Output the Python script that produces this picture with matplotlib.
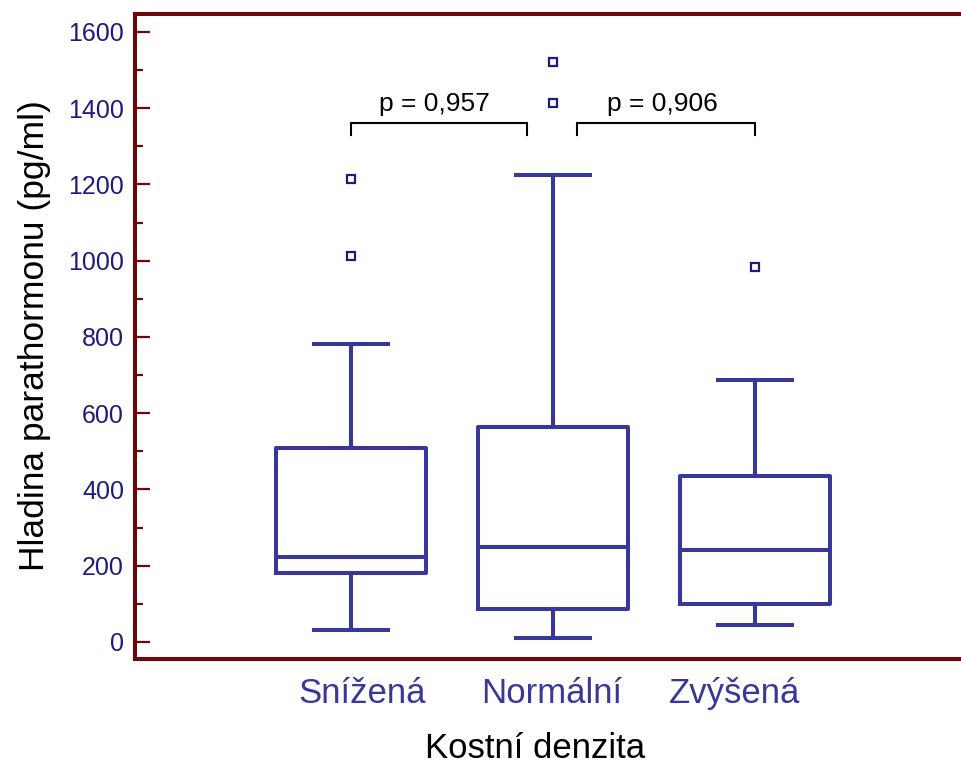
import matplotlib
matplotlib.use('Agg')
import matplotlib.pyplot as plt
from matplotlib.ticker import MultipleLocator

plt.rcParams['font.family'] = ['Liberation Sans', 'DejaVu Sans']

# data (pg/ml)
groups = ['Snížená', 'Normální', 'Zvýšená']
whislo = [32, 10, 45]
q1 = [181, 87, 99]
med = [223, 250, 242]
q3 = [509, 564, 435]
whishi = [782, 1225, 688]
fliers = [[1012, 1215], [1414, 1521], [984]]

p_values = ['p = 0,957', 'p = 0,906']
pairs = [(1, 1.87), (2.12, 3)]

box_col = '#38389c'
dark_blue = '#1c1c7e'
spine_col = '#6e0808'

fig = plt.figure(figsize=(9.62, 7.65), dpi=100)
ax = fig.add_axes([135/962, 1 - 659/765, 1 - 135/962, (659 - 14)/765])

stats = []
for i in range(len(groups)):
    stats.append(dict(med=med[i], q1=q1[i], q3=q3[i], whislo=whislo[i],
                      whishi=whishi[i], fliers=fliers[i], label=groups[i]))

lw = 2.9
ax.bxp(stats, positions=[1, 2, 3], widths=0.74, capwidths=0.366,
       boxprops=dict(color=box_col, linewidth=lw),
       whiskerprops=dict(color=box_col, linewidth=lw),
       capprops=dict(color=box_col, linewidth=lw),
       medianprops=dict(color=box_col, linewidth=lw),
       flierprops=dict(marker='s', markersize=6, markerfacecolor='white',
                       markeredgecolor=dark_blue, markeredgewidth=1.6))

# p-value brackets
for (x0, x1), txt in zip(pairs, p_values):
    ax.plot([x0, x0, x1, x1], [1330, 1362, 1362, 1330], color='black',
            linewidth=1.5, solid_joinstyle='miter')
    ax.text((x0 + x1) / 2 - 0.02, 1392, txt, ha='center', va='baseline',
            fontsize=19, color='black')

ax.set_xlim(-0.069, 4.025)
ax.set_ylim(-44.6, 1647)

ax.yaxis.set_major_locator(MultipleLocator(200))
ax.yaxis.set_minor_locator(MultipleLocator(100))
ax.tick_params(axis='y', which='major', direction='in', length=10.8, width=1.6,
               color=spine_col, labelcolor=dark_blue, labelsize=18, pad=8)
ax.tick_params(axis='y', which='minor', direction='in', length=5.8, width=1.6,
               color=spine_col)

ax.set_xticks([1.054, 1.995, 2.90])
ax.set_xticklabels(groups)
ax.tick_params(axis='x', length=0, labelsize=25, labelcolor=box_col, pad=13)

for s in ['left', 'top', 'bottom']:
    ax.spines[s].set_color(spine_col)
    ax.spines[s].set_linewidth(2.9)
ax.spines['right'].set_visible(False)

fig.text(535/962, 1 - 748/765, 'Kostní denzita', ha='center', va='center',
         fontsize=25, color='black')
fig.text(35/962, 1 - 336/765, 'Hladina parathormonu (pg/ml)', ha='center',
         va='center', rotation=90, fontsize=25.5, color='black')

fig.savefig('out.png', dpi=100)
